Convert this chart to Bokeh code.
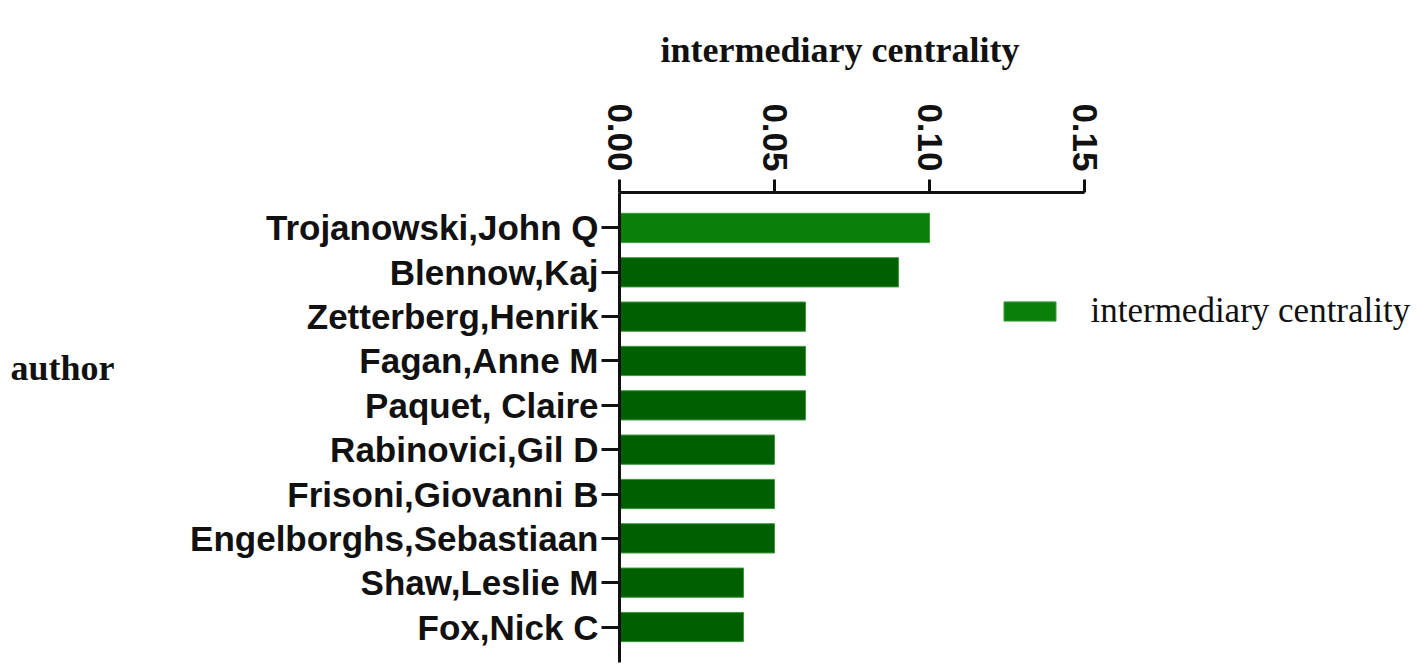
import math
from bokeh.plotting import figure
from bokeh.layouts import row
from bokeh.models import (FactorRange, Range1d, FixedTicker, NumeralTickFormatter,
                          Legend, LegendItem, ColumnDataSource)
from bokeh.core.properties import value
from bokeh.embed import file_html
from bokeh.resources import INLINE

# ---- data ----
authors = ["Trojanowski,John Q", "Blennow,Kaj", "Zetterberg,Henrik", "Fagan,Anne M",
           "Paquet, Claire", "Rabinovici,Gil D", "Frisoni,Giovanni B",
           "Engelborghs,Sebastiaan", "Shaw,Leslie M", "Fox,Nick C"]
centrality = [0.10, 0.09, 0.06, 0.06, 0.06, 0.05, 0.05, 0.05, 0.04, 0.04]
x_ticks = [0.00, 0.05, 0.10, 0.15]
series_name = "intermediary centrality"
x_title = "intermediary centrality"
y_title = "author"

# ---- styles / layout ----
HIGHLIGHT = "#0a800a"
BASE = "#005f00"
bar_colors = [HIGHLIGHT] + [BASE] * (len(authors) - 1)
SANS = "Liberation Sans"
SERIF = "Liberation Serif"
INK = "#111111"

TOTAL_W, TOTAL_H = 1418, 666
LEFT_W = 170                 # small panel holding the "author" caption
MAIN_W = TOTAL_W - LEFT_W
AXIS_PX = 465                # pixel length of the 0 .. 0.15 axis
FRAME_TOP, FRAME_BOTTOM = 191, 662
FRAME_LEFT = 619 - LEFT_W
FRAME_W = MAIN_W - FRAME_LEFT
x_end = x_ticks[-1] * FRAME_W / AXIS_PX

# ---- left caption panel (its frame is aligned with the main frame by the row) ----
pl = figure(width=LEFT_W, height=TOTAL_H, output_backend="svg", toolbar_location=None,
            x_range=Range1d(0, LEFT_W), y_range=Range1d(FRAME_BOTTOM, FRAME_TOP),
            min_border=0)
pl.axis.visible = False
pl.grid.visible = False
pl.outline_line_color = None
pl.text(x=[10], y=[367], text=[y_title], text_font=value(SERIF),
        text_font_style="bold", text_font_size="36px", text_color=INK,
        text_align="left", text_baseline="middle")

# ---- main chart ----
source = ColumnDataSource(dict(author=authors, value=centrality, color=bar_colors))

p = figure(width=MAIN_W, height=TOTAL_H, output_backend="svg", toolbar_location=None,
           y_range=FactorRange(factors=list(reversed(authors)), range_padding=0.06),
           x_range=Range1d(0, x_end), x_axis_location="above",
           min_border_left=FRAME_LEFT, min_border_right=0, min_border_top=FRAME_TOP,
           min_border_bottom=TOTAL_H - FRAME_BOTTOM)
p.outline_line_color = None
p.grid.visible = False

r = p.hbar(y="author", right="value", left=0, height=0.66, fill_color="color",
           line_color="#3a9a3a", line_width=1, source=source)

# chart title (left-aligned so that it sits over the 0 .. 0.15 axis)
p.title.text = x_title
p.title.align = "left"
p.title.offset = 41
p.title.vertical_align = "top"
p.title.standoff = 58
p.title.text_font = SERIF
p.title.text_font_style = "bold"
p.title.text_font_size = "36px"
p.title.text_color = INK

xa = p.xaxis[0]
xa.bounds = (x_ticks[0], x_ticks[-1])
xa.ticker = FixedTicker(ticks=x_ticks)
xa.formatter = NumeralTickFormatter(format="0.00")
xa.major_label_orientation = -math.pi / 2
xa.major_label_text_font = SANS
xa.major_label_text_font_style = "bold"
xa.major_label_text_font_size = "35px"
xa.major_label_text_color = INK
xa.major_label_standoff = 8
xa.major_tick_out = 13
xa.major_tick_in = 0
xa.minor_tick_out = 0
xa.minor_tick_in = 0
xa.axis_line_width = 3
xa.major_tick_line_width = 3
xa.axis_line_color = INK
xa.major_tick_line_color = INK

ya = p.yaxis[0]
ya.major_label_text_font = SANS
ya.major_label_text_font_style = "bold"
ya.major_label_text_font_size = "35px"
ya.major_label_text_color = INK
ya.major_label_standoff = 3
ya.major_tick_out = 18
ya.major_tick_in = 0
ya.axis_line_width = 3
ya.major_tick_line_width = 3
ya.axis_line_color = INK
ya.major_tick_line_color = INK

legend = Legend(items=[LegendItem(label=series_name, renderers=[r], index=0)],
                location=(1003 - 6.5 - 619, 331), orientation="vertical",
                glyph_width=65, glyph_height=24, label_standoff=29,
                label_text_font=SERIF, label_text_font_size="35px",
                label_text_color=INK, padding=0, margin=0, spacing=0,
                border_line_alpha=0, background_fill_alpha=0)
p.add_layout(legend, "center")

layout = row(pl, p)
open("out.html", "w").write(file_html(layout, INLINE))
